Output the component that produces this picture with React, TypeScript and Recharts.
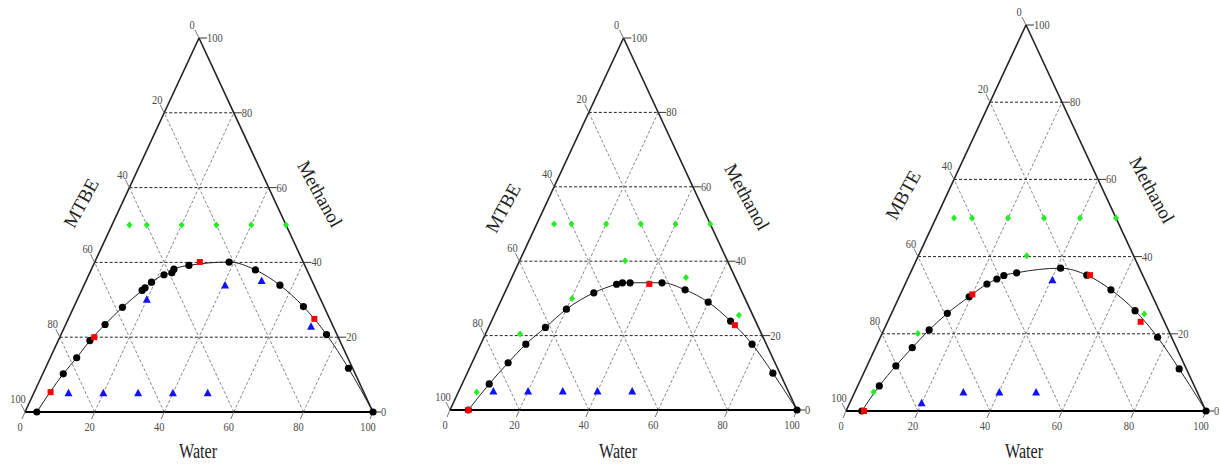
import React from "react";
import { ScatterChart, Scatter, XAxis, YAxis, ReferenceLine } from "recharts";

// every point is [water %, methanol %]; MTBE is what is left
type Pt = [number, number];

const tickValues = [0, 20, 40, 60, 80, 100];
const gridValues = [20, 40, 60, 80];

const curve1: Pt[] = [
  [3.4, 0], [5.9, 10.2], [7.6, 14.5], [9.1, 19.1], [11.3, 23.4], [14.0, 28.0],
  [17.4, 32.5], [17.9, 33.2], [19.0, 34.7], [21.6, 36.7], [23.6, 37.2], [23.7, 38.2],
  [27.5, 39.2], [38.6, 40.1], [47.2, 38.0], [56.3, 33.9], [65.9, 28.2], [76.3, 20.7],
  [87.1, 11.7], [100, 0],
];
const red1: Pt[] = [[4.7, 5.3], [9.9, 20.0], [30.2, 40.1], [70.7, 24.9]];
const green1: Pt[] = [[5, 50], [10, 50], [20, 50], [30, 50], [40, 50], [50, 50]];
const blue1: Pt[] = [
  [10, 5], [20, 5], [30, 5], [40, 5], [50, 5],
  [20, 30], [40.6, 33.8], [50.5, 35], [70.8, 22.8],
];

const curve2: Pt[] = [
  [5.3, 0], [7.8, 7.0], [10.4, 12.7], [13.0, 17.7], [16.4, 22.2], [20.0, 27.1],
  [25.7, 31.5], [31.1, 33.8], [32.6, 34.2], [34.8, 34.2], [44.0, 34.2], [51.6, 32.3],
  [59.9, 29.0], [68.9, 23.9], [78.2, 17.7], [88.1, 9.9], [100, 0],
];
const red2: Pt[] = [[5.3, 0], [40.5, 33.9], [70.7, 22.8]];
const green2: Pt[] = [
  [5, 50], [10, 50], [20, 50], [30, 50], [40, 50], [50, 50],
  [5.3, 4.8], [10, 20.4], [20.2, 30], [30.4, 40.1], [50.2, 35.6], [70.5, 25.5],
];
const blue2: Pt[] = [[10, 5], [20, 5], [30, 5], [40, 5], [50, 5]];

const curve3: Pt[] = [
  [4.4, 0], [6.0, 6.5], [8.0, 11.7], [10.2, 16.4], [12.6, 21.0], [15.5, 25.3],
  [19.4, 29.6], [22.7, 32.9], [24.8, 34.2], [26.3, 35.1], [29.5, 35.8], [41.1, 37.0],
  [49.3, 35.2], [57.9, 31.4], [67.3, 26.0], [77.0, 19.1], [87.1, 10.9], [100, 0],
];
const red3: Pt[] = [[5.0, 0], [20.0, 30.2], [50.2, 35.2], [70.3, 23.1]];
const green3: Pt[] = [
  [5, 50], [10, 50], [20, 50], [30, 50], [40, 50], [50, 50],
  [5.2, 4.9], [9.9, 20.1], [30.1, 40.2], [70.3, 25.1],
];
const blue3: Pt[] = [[20, 2], [30.2, 4.8], [40.2, 4.8], [50.4, 4.8], [40.4, 33.9]];

// ternary -> cartesian (x along the base, y = methanol)
const toXY = (p: Pt) => ({ x: p[0] + p[1] / 2, y: p[1] });

const waterTicks = tickValues.map((v) => ({ x: v, y: 0, label: v }));
const methanolTicks = tickValues.map((v) => ({ x: 100 - v / 2, y: v, label: v }));
const mtbeTicks = tickValues.map((v) => ({ x: (100 - v) / 2, y: 100 - v, label: v }));

const serif = "'Liberation Serif', 'Times New Roman', serif";
const tickText = { fontFamily: serif, fontSize: 13, fill: "#4a4a4a" };

const numText = (x: number, y: number, label: number, anchor: string) => (
  <text
    x={x}
    y={y}
    textAnchor={anchor}
    textLength={String(label).length * 5.2}
    lengthAdjust="spacingAndGlyphs"
    {...tickText}
  >
    {label}
  </text>
);

const BottomTick = (p: any) => (
  <g>
    <line x1={p.cx} y1={p.cy} x2={p.cx - 3} y2={p.cy + 7} stroke="#777" />
    {numText(p.cx - 5, p.cy + 19, p.payload.label, "middle")}
  </g>
);
const RightTick = (p: any) => (
  <g>
    <line x1={p.cx} y1={p.cy} x2={p.cx + 8} y2={p.cy} stroke="#333" />
    {numText(p.cx + 8, p.cy + 4, p.payload.label, "start")}
  </g>
);
const LeftTick = (p: any) => (
  <g>
    <line x1={p.cx} y1={p.cy} x2={p.cx - 4} y2={p.cy - 8} stroke="#777" />
    {numText(p.cx - 7, p.cy - 9, p.payload.label, "middle")}
  </g>
);

const BlackDot = (p: any) => <circle cx={p.cx} cy={p.cy} r={3.6} fill="#000" />;
const RedSquare = (p: any) => (
  <rect x={p.cx - 3} y={p.cy - 3} width={6} height={6} fill="#ff0000" />
);
const GreenDiamond = (p: any) => (
  <polygon
    points={`${p.cx},${p.cy - 3.5} ${p.cx + 3},${p.cy} ${p.cx},${p.cy + 3.5} ${p.cx - 3},${p.cy}`}
    fill="#22ee22"
  />
);
const BlueTriangle = (p: any) => (
  <polygon
    points={`${p.cx},${p.cy - 4.5} ${p.cx + 4},${p.cy + 3} ${p.cx - 4},${p.cy + 3}`}
    fill="#1010ff"
  />
);

type Title = { x: number; y: number };

interface PanelProps {
  left: number;
  width: number;
  margin: { top: number; right: number; bottom: number; left: number };
  curve: Pt[];
  red: Pt[];
  green: Pt[];
  blue: Pt[];
  leftName: string;
  water: Title;
  mtbe: Title;
  methanol: Title;
}

const Panel = (props: PanelProps) => {
  const { left, width, margin, water, mtbe, methanol } = props;
  return (
    <div style={{ position: "absolute", left, top: 0 }}>
      <ScatterChart width={width} height={464} margin={margin}>
        <XAxis type="number" dataKey="x" domain={[0, 100]} hide />
        <YAxis type="number" dataKey="y" domain={[0, 100]} hide />

        {gridValues.map((g) => (
          <ReferenceLine
            key={"w" + g}
            segment={[{ x: g, y: 0 }, { x: g + (100 - g) / 2, y: 100 - g }]}
            stroke="#888"
            strokeDasharray="3 2"
          />
        ))}
        {gridValues.map((g) => (
          <ReferenceLine
            key={"b" + g}
            segment={[{ x: g, y: 0 }, { x: g / 2, y: g }]}
            stroke="#888"
            strokeDasharray="3 2"
          />
        ))}
        {gridValues.map((g) => (
          <ReferenceLine
            key={"m" + g}
            segment={[{ x: g / 2, y: g }, { x: 100 - g / 2, y: g }]}
            stroke="#222"
            strokeDasharray="3 2"
          />
        ))}

        <ReferenceLine segment={[{ x: 0, y: 0 }, { x: 50, y: 100 }]} stroke="#222" strokeWidth={1.6} />
        <ReferenceLine segment={[{ x: 100, y: 0 }, { x: 50, y: 100 }]} stroke="#222" strokeWidth={1.6} />
        <ReferenceLine segment={[{ x: 0, y: 0 }, { x: 100, y: 0 }]} stroke="#000" strokeWidth={2} />

        <Scatter data={waterTicks} shape={BottomTick} isAnimationActive={false} />
        <Scatter data={methanolTicks} shape={RightTick} isAnimationActive={false} />
        <Scatter data={mtbeTicks} shape={LeftTick} isAnimationActive={false} />

        <Scatter
          data={props.curve.map(toXY)}
          line={{ stroke: "#222", strokeWidth: 1 }}
          lineJointType="monotoneX"
          shape={BlackDot}
          isAnimationActive={false}
        />
        <Scatter data={props.red.map(toXY)} shape={RedSquare} isAnimationActive={false} />
        <Scatter data={props.green.map(toXY)} shape={GreenDiamond} isAnimationActive={false} />
        <Scatter data={props.blue.map(toXY)} shape={BlueTriangle} isAnimationActive={false} />

        <text
          x={water.x}
          y={water.y + 6}
          textAnchor="middle"
          textLength={38}
          lengthAdjust="spacingAndGlyphs"
          fontFamily={serif}
          fontSize={20}
          fill="#222"
        >
          Water
        </text>
        <text
          x={mtbe.x}
          y={mtbe.y}
          textAnchor="middle"
          dominantBaseline="central"
          transform={`rotate(-61 ${mtbe.x} ${mtbe.y})`}
          fontFamily={serif}
          fontSize={19}
          fill="#222"
        >
          {props.leftName}
        </text>
        <text
          x={methanol.x}
          y={methanol.y}
          textAnchor="middle"
          dominantBaseline="central"
          transform={`rotate(61 ${methanol.x} ${methanol.y})`}
          fontFamily={serif}
          fontSize={19}
          fill="#222"
        >
          Methanol
        </text>
      </ScatterChart>
    </div>
  );
}

export default function App() {
  return (
    <div style={{ position: "absolute", left: 0, top: 0, width: 1220, height: 464, background: "#fff" }}>
      <Panel
        left={0}
        width={400}
        margin={{ top: 38, right: 27, bottom: 52, left: 25 }}
        curve={curve1}
        red={red1}
        green={green1}
        blue={blue1}
        leftName="MTBE"
        water={{ x: 198, y: 452 }}
        mtbe={{ x: 81, y: 203 }}
        methanol={{ x: 320, y: 194 }}
      />
      <Panel
        left={400}
        width={420}
        margin={{ top: 38, right: 23, bottom: 54, left: 50 }}
        curve={curve2}
        red={red2}
        green={green2}
        blue={blue2}
        leftName="MTBE"
        water={{ x: 218, y: 452 }}
        mtbe={{ x: 103, y: 208 }}
        methanol={{ x: 347, y: 197 }}
      />
      <Panel
        left={820}
        width={400}
        margin={{ top: 25, right: 14, bottom: 53, left: 26 }}
        curve={curve3}
        red={red3}
        green={green3}
        blue={blue3}
        leftName="MBTE"
        water={{ x: 204, y: 452 }}
        mtbe={{ x: 83, y: 195 }}
        methanol={{ x: 332, y: 190 }}
      />
    </div>
  );
}
